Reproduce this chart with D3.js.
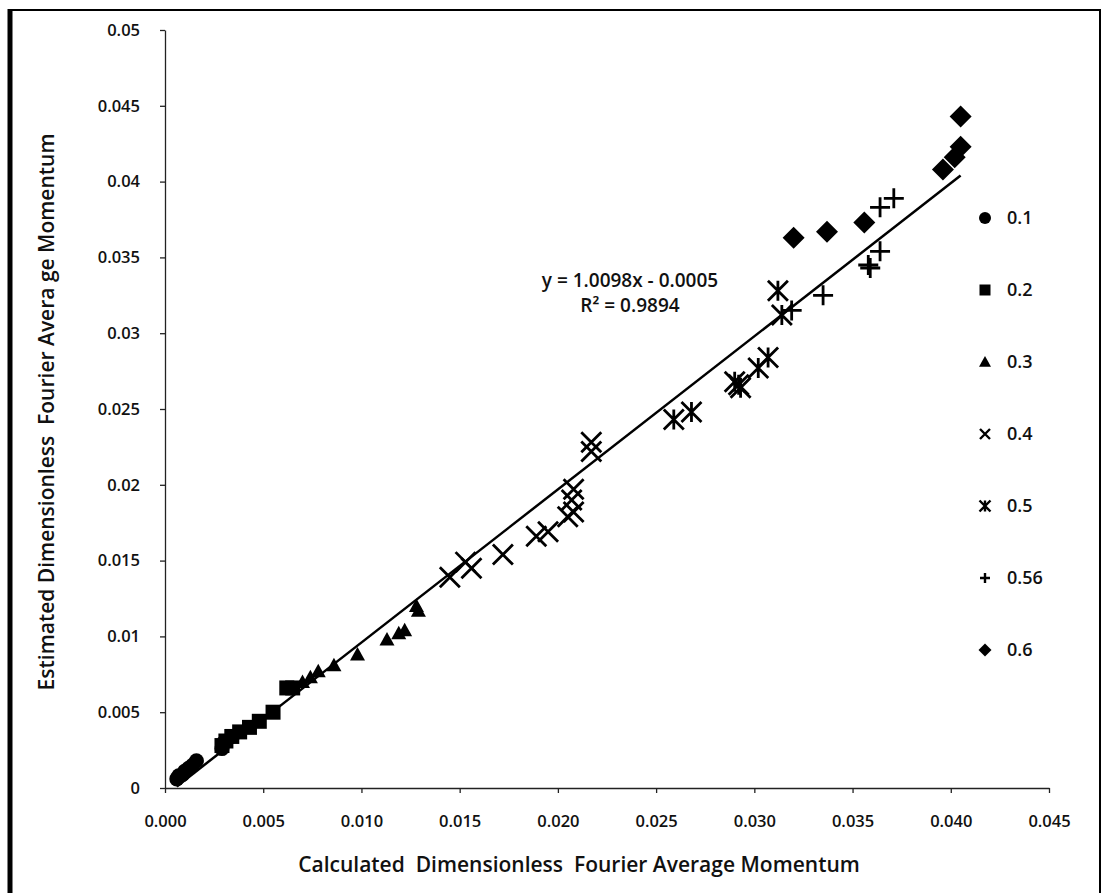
<!DOCTYPE html>
<html>
<head>
<meta charset="utf-8">
<script src="https://cdn.jsdelivr.net/npm/d3@7"></script>
<style>
  html, body { margin: 0; padding: 0; background: #fff; }
  svg { display: block; font-family: "Open Sans", sans-serif; }
  .axis path, .axis line { stroke: #222; stroke-width: 1.3; }
  .axis text { font-size: 16.5px; fill: #111; font-family: "Open Sans", sans-serif; font-weight: 600; }
  .title { font-size: 21px; fill: #111; font-weight: 600; }
  .eq text, .legend text { font-size: 18px; fill: #111; font-weight: 600; }
  .eq text { font-size: 19px; }
</style>
</head>
<body>
<svg id="chart"></svg>
<script>
// series names (legend order)
const seriesNames = ['0.1', '0.2', '0.3', '0.4', '0.5', '0.56', '0.6'];
const markerTypes = ['circle', 'square', 'triangle', 'x', 'star', 'plus', 'diamond'];

// [calculated, estimated] pairs
const s01 = [[0.0006, 0.0006], [0.0007, 0.0008], [0.0009, 0.0009], [0.0010, 0.0011], [0.0012, 0.0013],
  [0.0014, 0.0015], [0.0016, 0.0018], [0.0029, 0.0026], [0.0030, 0.0030]];
const s02 = [[0.0029, 0.0028], [0.0031, 0.0031], [0.0034, 0.0034], [0.0038, 0.0037], [0.0043, 0.0040],
  [0.0048, 0.0044], [0.0055, 0.0050], [0.0062, 0.0066], [0.0065, 0.0066]];
const s03 = [[0.0070, 0.0070], [0.0074, 0.0073], [0.0078, 0.0077], [0.0086, 0.0081], [0.0098, 0.0088],
  [0.0113, 0.0098], [0.0119, 0.0102], [0.0122, 0.0104], [0.0129, 0.0117], [0.0128, 0.0120]];
const s04 = [[0.0145, 0.0139], [0.0153, 0.0149], [0.0156, 0.0145], [0.0172, 0.0154], [0.0189, 0.0166],
  [0.0195, 0.0169], [0.0205, 0.0179], [0.0208, 0.0182], [0.0207, 0.0190], [0.0208, 0.0197],
  [0.0217, 0.0222], [0.0217, 0.0228]];
const s05 = [[0.0259, 0.0243], [0.0268, 0.0248], [0.0290, 0.0268], [0.0292, 0.0266], [0.0293, 0.0264],
  [0.0302, 0.0277], [0.0307, 0.0284], [0.0314, 0.0312], [0.0312, 0.0328]];
const s056 = [[0.0319, 0.0315], [0.0335, 0.0325], [0.0358, 0.0345], [0.0359, 0.0343], [0.0364, 0.0354],
  [0.0364, 0.0383], [0.0371, 0.0389]];
const s06 = [[0.0320, 0.0363], [0.0337, 0.0367], [0.0356, 0.0373], [0.0396, 0.0408], [0.0402, 0.0416],
  [0.0405, 0.0423], [0.0405, 0.0443]];
const seriesData = [s01, s02, s03, s04, s05, s056, s06];

// linear trendline over all points
const trendSlope = 1.0098;
const trendIntercept = -0.0005;
const trendRange = [0.0006, 0.0405];
const eqLines = ['y = 1.0098x - 0.0005', 'R\u00B2 = 0.9894'];

const xTickVals = [0, 0.005, 0.010, 0.015, 0.020, 0.025, 0.030, 0.035, 0.040, 0.045];
const yTickVals = [0, 0.005, 0.01, 0.015, 0.02, 0.025, 0.03, 0.035, 0.04, 0.045, 0.05];

const W = 1102, H = 893;
const svg = d3.select('#chart').attr('width', W).attr('height', H);

// frame
svg.append('rect').attr('x', 10).attr('y', 10).attr('width', W - 12).attr('height', H + 10)
  .attr('fill', 'none').attr('stroke', '#000').attr('stroke-width', 2);
svg.append('line').attr('x1', 10).attr('x2', 10).attr('y1', 9).attr('y2', H)
  .attr('stroke', '#000').attr('stroke-width', 5);

const x = d3.scaleLinear().domain([0, 0.045]).range([165, 1049]);
const y = d3.scaleLinear().domain([0, 0.05]).range([788, 30]);

// axes
svg.append('g').attr('class', 'axis').attr('transform', `translate(0,${y(0)})`)
  .call(d3.axisBottom(x).tickValues(xTickVals).tickFormat(d3.format('.3f')).tickSize(5).tickSizeOuter(0).tickPadding(22));
svg.append('g').attr('class', 'axis').attr('transform', `translate(${x(0)},0)`)
  .call(d3.axisLeft(y).tickValues(yTickVals).tickFormat(d => d === 0 ? '0' : String(+d.toFixed(3)))
    .tickSize(5).tickSizeOuter(0).tickPadding(20));

// axis titles
svg.append('text').attr('class', 'title')
  .attr('x', 579).attr('y', 872)
  .attr('text-anchor', 'middle')
  .attr('xml:space', 'preserve')
  .text('Calculated  Dimensionless  Fourier Average Momentum');
svg.append('text').attr('class', 'title')
  .attr('transform', `translate(54,412) rotate(-90)`)
  .attr('text-anchor', 'middle')
  .attr('xml:space', 'preserve')
  .text('Estimated Dimensionless  Fourier Avera ge Momentum');

// trendline
svg.append('line')
  .attr('x1', x(trendRange[0])).attr('y1', y(trendSlope * trendRange[0] + trendIntercept))
  .attr('x2', x(trendRange[1])).attr('y2', y(trendSlope * trendRange[1] + trendIntercept))
  .attr('stroke', '#000').attr('stroke-width', 2.5);

// marker path for a given type and size
function markerPath(type, s) {
  const h = s / 2;
  switch (type) {
    case 'circle': return d3.symbol(d3.symbolCircle, Math.PI * h * h)();
    case 'square': return `M${-h},${-h}H${h}V${h}H${-h}Z`;
    case 'triangle': return `M0,${-h}L${h},${h * 0.8}L${-h},${h * 0.8}Z`;
    case 'diamond': return `M0,${-h}L${h},0L0,${h}L${-h},0Z`;
    case 'x': return `M${-h},${-h}L${h},${h}M${-h},${h}L${h},${-h}`;
    case 'star': return `M${-h},${-h}L${h},${h}M${-h},${h}L${h},${-h}M0,${-h}V${h}`;
    case 'plus': return `M${-h},0H${h}M0,${-h}V${h}`;
  }
}
const isStroke = t => t === 'x' || t === 'star' || t === 'plus';
const dataSize = { circle: 15, square: 15, triangle: 15, diamond: 22, x: 20, star: 20, plus: 20 };
const legendSize = { circle: 12, square: 11, triangle: 12, diamond: 13, x: 10, star: 11, plus: 10 };

const pts = svg.append('g');
seriesData.forEach((data, i) => {
  const t = markerTypes[i];
  pts.selectAll(null).data(data).enter().append('path')
    .attr('transform', d => `translate(${x(d[0])},${y(d[1])})`)
    .attr('d', markerPath(t, dataSize[t]))
    .attr('fill', isStroke(t) ? 'none' : '#000')
    .attr('stroke', '#000')
    .attr('stroke-width', isStroke(t) ? 2.8 : 0);
});

// equation
svg.append('g').attr('class', 'eq').selectAll('text').data(eqLines).enter().append('text')
  .attr('x', 630).attr('y', (d, i) => 287 + i * 25)
  .attr('text-anchor', 'middle')
  .text(d => d);

// legend
const legend = svg.append('g').attr('class', 'legend');
const lg = legend.selectAll('g').data(seriesNames).enter().append('g')
  .attr('transform', (d, i) => `translate(985,${218 + i * 72})`);
lg.append('path')
  .attr('d', (d, i) => markerPath(markerTypes[i], legendSize[markerTypes[i]]))
  .attr('fill', (d, i) => isStroke(markerTypes[i]) ? 'none' : '#000')
  .attr('stroke', '#000')
  .attr('stroke-width', (d, i) => isStroke(markerTypes[i]) ? 2.4 : 0);
lg.append('text').attr('x', 22).attr('dy', '0.35em').text(d => d);
</script>
</body>
</html>
